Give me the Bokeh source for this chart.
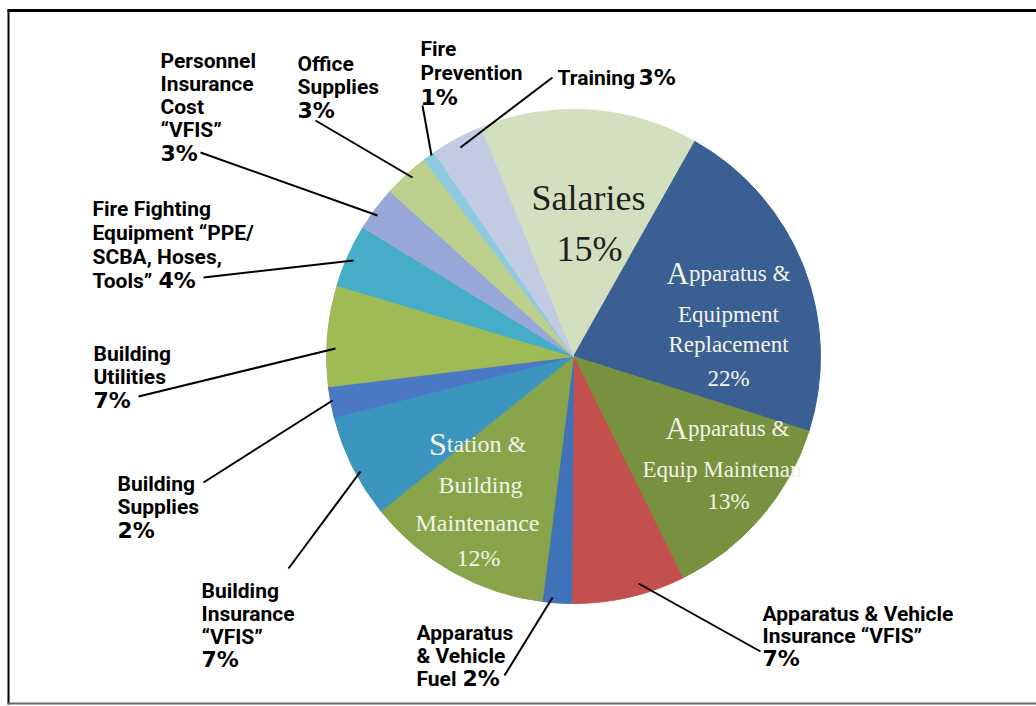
import math
from bokeh.plotting import figure
from bokeh.models import Range1d, ColumnDataSource
from bokeh.core.properties import value
from bokeh.embed import file_html
from bokeh.resources import INLINE

# ---------------- data ----------------
categories = ["Salaries", "Apparatus & Equipment Replacement", "Apparatus & Equip Maintenance",
              "Apparatus & Vehicle Insurance VFIS", "Apparatus & Vehicle Fuel",
              "Station & Building Maintenance", "Building Insurance VFIS", "Building Supplies",
              "Building Utilities", "Fire Fighting Equipment", "Personnel Insurance Cost VFIS",
              "Office Supplies", "Fire Prevention", "Training"]
shares = [14.3, 21.7, 12.8, 7.4, 1.9, 12.2, 6.8, 2.0, 6.6, 4.1, 2.9, 3.0, 0.8, 3.4]
pct_labels = ["15%", "22%", "13%", "7%", "2%", "12%", "7%", "2%", "7%", "4%", "3%", "3%", "1%", "3%"]
colors = ["#d3dfbf", "#3a5f93", "#77913f", "#c4504e", "#3f72b8", "#88a44a", "#3c95bf",
          "#4a78c2", "#9fbb55", "#46adc8", "#97a8d8", "#bccf8c", "#8ecbe0", "#c2cbe4"]

# ---------------- layout ----------------
W, H = 1036, 706
def Y(yi):  # image y (top-down) -> data y
    return H - yi

CX, CY, R = 573, Y(356), 247
START_CW = 337.9  # degrees clockwise from 12 o'clock where the first slice starts

p = figure(width=W, height=H, x_range=Range1d(0, W), y_range=Range1d(0, H),
           output_backend="svg", toolbar_location=None, min_border=0,
           x_axis_type=None, y_axis_type=None, outline_line_color=None,
           background_fill_color="white", border_fill_color="white")
p.grid.visible = False

# slices
total = sum(shares)
starts, ends = [], []
cum = 0.0
for s in shares:
    a0 = START_CW + cum / total * 360.0
    a1 = a0 + s / total * 360.0
    starts.append(math.radians(90 - a0))
    ends.append(math.radians(90 - a1))
    cum += s
src = ColumnDataSource(dict(cat=categories, share=shares, start=starts, end=ends, color=colors))
p.wedge(x=CX, y=CY, radius=R, start_angle="start", end_angle="end", direction="clock",
        fill_color="color", line_color="color", line_width=1, source=src)

# frame
p.segment(x0=[7], y0=[Y(10)], x1=[W], y1=[Y(10)], line_color="black", line_width=3)
p.segment(x0=[8], y0=[Y(9)], x1=[8], y1=[Y(704)], line_color="black", line_width=2)
p.segment(x0=[7], y0=[Y(703)], x1=[W], y1=[Y(703)], line_color="#666666", line_width=2)

# leader lines (label side -> inside slice), image coords
leaders = {
    13: ((552, 77), (460, 147)),
    12: ((422, 105), (431, 155)),
    11: ((315, 120), (412, 177)),
    10: ((200, 152), (377, 215)),
    9: ((203, 277), (353, 260)),
    8: ((138, 396), (335, 348)),
    7: ((203, 482), (332, 400)),
    6: ((288, 568), (360, 471)),
    4: ((504, 675), (552, 597)),
    3: ((760, 651), (638, 583)),
}
p.segment(x0=[a[0] for a, b in leaders.values()], y0=[Y(a[1]) for a, b in leaders.values()],
          x1=[b[0] for a, b in leaders.values()], y1=[Y(b[1]) for a, b in leaders.values()],
          line_color="black", line_width=2)

# outside labels
outer = {
    13: dict(x=557, y=77, lines=["Training"], inline=638, lead=0),
    12: dict(x=420, y=48, lines=["Fire", "Prevention"], inline=None, lead=24.5),
    11: dict(x=297, y=63, lines=["Office", "Supplies"], inline=None, lead=23.5),
    10: dict(x=160, y=60, lines=["Personnel", "Insurance", "Cost", "\u201cVFIS\u201d"], inline=None, lead=23.3),
    9: dict(x=92, y=208, lines=["Fire Fighting", "Equipment \u201cPPE/", "SCBA, Hoses,", "Tools\u201d"], inline=158, lead=24),
    8: dict(x=93, y=353, lines=["Building", "Utilities"], inline=None, lead=23.5),
    7: dict(x=117, y=483, lines=["Building", "Supplies"], inline=None, lead=23.5),
    6: dict(x=201, y=590, lines=["Building", "Insurance", "\u201cVFIS\u201d"], inline=None, lead=23),
    4: dict(x=416, y=632, lines=["Apparatus", "& Vehicle", "Fuel"], inline=462, lead=23),
    3: dict(x=762, y=613, lines=["Apparatus & Vehicle", "Insurance \u201cVFIS\u201d"], inline=None, lead=22.5),
}
nx, ny, nt, px_, py_, pt = [], [], [], [], [], []
for i, spec in outer.items():
    for k, line in enumerate(spec["lines"]):
        nx.append(spec["x"]); ny.append(Y(spec["y"] + k * spec["lead"])); nt.append(line)
    if spec["inline"] is not None:
        px_.append(spec["inline"]); py_.append(Y(spec["y"] + (len(spec["lines"]) - 1) * spec["lead"]))
    else:
        px_.append(spec["x"]); py_.append(Y(spec["y"] + len(spec["lines"]) * spec["lead"]))
    pt.append(pct_labels[i])

p.text(x=nx, y=ny, text=nt, text_font=value("Roboto"), text_font_style="bold",
       text_font_size="21px", text_baseline="alphabetic", text_align="left", text_color="black")
p.text(x=px_, y=py_, text=pt, text_font=value("DejaVu Sans"), text_font_style="bold",
       text_font_size="22px", text_baseline="alphabetic", text_align="left", text_color="black")

# inside labels (serif)
SERIF = "Liberation Serif"
TW = {"p": .5, "a": .444, "r": .333, "t": .278, "u": .5, "s": .389, " ": .25, "&": .778,
      "i": .278, "o": .5, "n": .5, "A": .722, "S": .556}

def big_first(text, cx, yb, size, big, color):
    first, rest = text[0], text[1:]
    wf = TW[first] * big
    wr = sum(TW.get(c, .5) for c in rest) * size
    left = cx - (wf + wr) / 2
    p.text(x=[left], y=[Y(yb)], text=[first], text_font=value(SERIF), text_font_size=f"{big}px",
           text_baseline="alphabetic", text_align="left", text_color=color)
    p.text(x=[left + wf], y=[Y(yb)], text=[rest], text_font=value(SERIF), text_font_size=f"{size}px",
           text_baseline="alphabetic", text_align="left", text_color=color)

def centered(texts, xs, ys, size, color, align="center"):
    p.text(x=xs, y=[Y(v) for v in ys], text=texts, text_font=value(SERIF), text_font_size=f"{size}px",
           text_baseline="alphabetic", text_align=align, text_color=color)

INK = "#f3f3e8"
# Salaries
centered(["Salaries", pct_labels[0]], [588, 589], [197, 248], 36, "#1e1e1e")
# Apparatus & Equipment Replacement
big_first("Apparatus &", 728, 273, 23, 31, INK)
centered(["Equipment", "Replacement", pct_labels[1]], [728, 728, 728], [314, 344, 378], 23, INK)
# Apparatus & Equip Maintenance
big_first("Apparatus &", 727, 428, 23, 31, INK)
centered(["Equip Maintenan"], [642], [469], 23, INK, align="left")
centered([pct_labels[2]], [728], [501], 23, INK)
# Station & Building Maintenance
big_first("Station &", 477, 443, 24, 32, INK)
centered(["Building", "Maintenance", pct_labels[5]], [480, 477, 478], [484, 522, 557], 24, INK)

open("out.html", "w").write(file_html(p, INLINE))
